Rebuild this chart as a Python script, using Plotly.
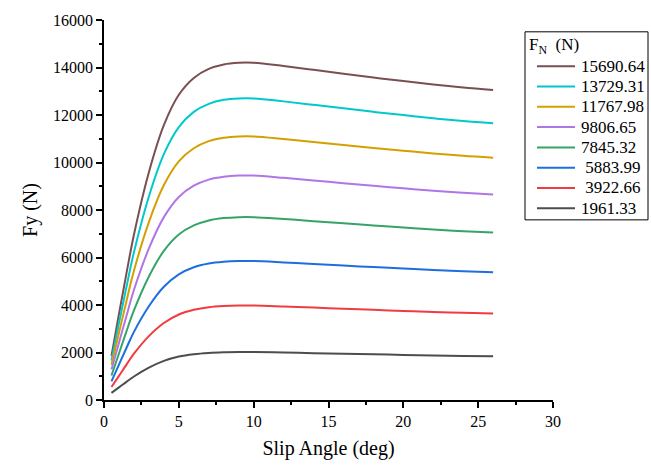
import plotly.graph_objects as go

slip = [0.5, 1, 1.5, 2, 3, 4, 5, 6, 7, 8, 9, 10, 12, 14, 16, 18, 20, 22, 24, 26]

labels = ["15690.64", "13729.31", "11767.98", "9806.65", "7845.32",
          "\u00a05883.99", "\u00a03922.66", "1961.33"]
colors = ["#7a4f52", "#00c8cc", "#d4a000", "#b076e6", "#35a468",
          "#1d6fe0", "#f03c40", "#4d4d4d"]

fy_15690 = [1860, 3620, 5330, 6960, 9590, 11570, 12850, 13560, 13940, 14130,
            14200, 14200, 14062, 13901, 13740, 13579, 13430, 13280, 13153, 13050]
fy_13729 = [1660, 3240, 4760, 6220, 8570, 10350, 11490, 12130, 12470, 12640,
            12700, 12700, 12574, 12427, 12280, 12133, 11997, 11860, 11745, 11650]
fy_11768 = [1480, 2830, 4160, 5440, 7490, 9050, 10050, 10600, 10900, 11045,
            11100, 11100, 10992, 10866, 10740, 10614, 10497, 10380, 10281, 10200]
fy_9807 = [1280, 2410, 3540, 4630, 6380, 7700, 8550, 9025, 9280, 9400,
           9450, 9450, 9354, 9242, 9130, 9018, 8914, 8810, 8722, 8650]
fy_7845 = [1030, 1960, 2890, 3770, 5200, 6280, 6970, 7350, 7560, 7660,
           7700, 7700, 7622, 7531, 7440, 7349, 7265, 7180, 7108, 7050]
fy_5884 = [785, 1490, 2190, 2870, 3950, 4770, 5290, 5590, 5745, 5820,
           5850, 5850, 5794, 5728, 5662, 5596, 5535, 5474, 5422, 5380]
fy_3923 = [550, 1015, 1490, 1950, 2690, 3240, 3600, 3800, 3910, 3960,
           3980, 3980, 3939, 3892, 3844, 3796, 3752, 3708, 3671, 3640]
fy_1961 = [300, 530, 765, 990, 1360, 1645, 1830, 1930, 1983, 2010,
           2020, 2020, 1998, 1973, 1948, 1923, 1899, 1876, 1856, 1840]

series = [fy_15690, fy_13729, fy_11768, fy_9807, fy_7845, fy_5884, fy_3923, fy_1961]

FONT = "Liberation Serif"

# plot-area geometry in pixels (used only to place the hand-built legend box)
W, H = 651, 468
L, R, T, B = 104, 98, 15, 67
PW, PH = W - L - R, H - T - B


def px_x(px):
    return (px - L) / PW


def px_y(py):
    return (H - B - py) / PH


fig = go.Figure()
for lab, col, ys in zip(labels, colors, series):
    fig.add_trace(go.Scatter(x=slip, y=ys, mode="lines", name=lab, showlegend=False,
                             line=dict(color=col, width=2, shape="spline", smoothing=1.0)))

axis_common = dict(showline=True, linecolor="black", linewidth=1.5, ticks="outside",
                   tickcolor="black", tickwidth=1.5, ticklen=6, showgrid=False,
                   zeroline=False, tickfont=dict(family=FONT, size=16, color="black"),
                   mirror=False, tickformat="d")

shapes = [dict(type="rect", xref="paper", yref="paper",
               x0=px_x(525), x1=px_x(648), y0=px_y(218), y1=px_y(27),
               line=dict(color="black", width=1), fillcolor="white", layer="above")]
annotations = [dict(text="F<sub>N</sub>  (N)", xref="paper", yref="paper",
                    x=px_x(527), y=px_y(41), xanchor="left", yanchor="middle",
                    showarrow=False, font=dict(family=FONT, size=17, color="black"))]
for i, (lab, col) in enumerate(zip(labels, colors)):
    yy = 62 + 20.6 * i
    shapes.append(dict(type="line", xref="paper", yref="paper",
                       x0=px_x(537), x1=px_x(575), y0=px_y(yy), y1=px_y(yy),
                       line=dict(color=col, width=2), layer="above"))
    annotations.append(dict(text=lab, xref="paper", yref="paper",
                            x=px_x(579), y=px_y(yy), xanchor="left", yanchor="middle",
                            showarrow=False, font=dict(family=FONT, size=17, color="black")))

fig.update_layout(
    width=W, height=H,
    margin=dict(l=L, r=R, t=T, b=B),
    paper_bgcolor="white", plot_bgcolor="white",
    font=dict(family=FONT, color="black"),
    xaxis=dict(range=[0, 30], dtick=5, tick0=0,
               minor=dict(dtick=2.5, ticklen=3, ticks="outside", tickcolor="black", tickwidth=1.5),
               title=dict(text="Slip Angle (deg)", font=dict(family=FONT, size=20), standoff=12),
               **axis_common),
    yaxis=dict(range=[0, 16000], dtick=2000, tick0=0,
               minor=dict(dtick=1000, ticklen=3, ticks="outside", tickcolor="black", tickwidth=1.5),
               title=dict(text="Fy (N)", font=dict(family=FONT, size=20), standoff=10),
               **axis_common),
    shapes=shapes,
    annotations=annotations,
    showlegend=False,
)

fig.write_html("out.html")
